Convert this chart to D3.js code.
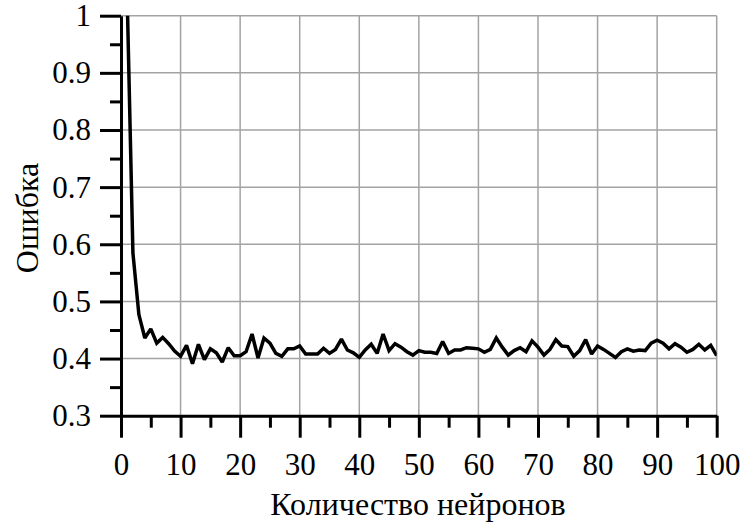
<!DOCTYPE html>
<html>
<head>
<meta charset="utf-8">
<script src="https://cdn.jsdelivr.net/npm/d3@7"></script>
<style>
  html, body { margin: 0; padding: 0; background: #fff; }
  svg { display: block; font-family: "Liberation Serif", serif; }
  #chart text { font-family: "Liberation Serif", serif !important; }
</style>
</head>
<body>
<svg id="chart" width="743" height="522"></svg>
<script>
// ---- data ----
const neurons = d3.range(1, 101);
const errorValues = [
  1.05, 0.585, 0.477, 0.436, 0.452, 0.427, 0.437, 0.426, 0.413, 0.404,
  0.423, 0.391, 0.425, 0.398, 0.417, 0.410, 0.394, 0.419, 0.405, 0.405,
  0.412, 0.443, 0.401, 0.436, 0.427, 0.409, 0.404, 0.417, 0.417, 0.422,
  0.408, 0.408, 0.408, 0.418, 0.409, 0.416, 0.434, 0.415, 0.410, 0.402,
  0.415, 0.425, 0.409, 0.443, 0.414, 0.426, 0.420, 0.412, 0.406, 0.414,
  0.411, 0.411, 0.409, 0.430, 0.409, 0.415, 0.415, 0.419, 0.418, 0.417,
  0.411, 0.416, 0.436, 0.420, 0.406, 0.414, 0.419, 0.412, 0.431, 0.420,
  0.406, 0.416, 0.433, 0.422, 0.421, 0.404, 0.414, 0.433, 0.408, 0.422,
  0.416, 0.409, 0.402, 0.412, 0.417, 0.413, 0.415, 0.414, 0.427, 0.432,
  0.427, 0.417, 0.426, 0.420, 0.411, 0.416, 0.425, 0.415, 0.423, 0.405
];
const xTicks = [0, 10, 20, 30, 40, 50, 60, 70, 80, 90, 100];
const xMinorTicks = [5, 15, 25, 35, 45, 55, 65, 75, 85, 95];
const yTicks = [0.3, 0.4, 0.5, 0.6, 0.7, 0.8, 0.9, 1.0];
const yMinorTicks = [0.35, 0.45, 0.55, 0.65, 0.75, 0.85, 0.95];
const xTitle = "Количество нейронов";
const yTitle = "Ошибка";

// ---- layout ----
const svg = d3.select("#chart");
const mLeft = 121, mRight = 716.7, mTop = 15.7, mBottom = 415.7;
const x = d3.scaleLinear().domain([0, 100]).range([mLeft, mRight]);
const y = d3.scaleLinear().domain([0.3, 1.0]).range([mBottom, mTop]);
const FONT = "Liberation Serif";
const tickFont = 31;
const titleFont = 32;

// gridlines
const grid = svg.append("g").attr("stroke", "#a3a3a3").attr("stroke-width", 1.5);
grid.selectAll("line.v").data(xTicks.filter(d => d > 0)).enter().append("line")
  .attr("x1", d => x(d)).attr("x2", d => x(d)).attr("y1", mTop).attr("y2", mBottom);
grid.selectAll("line.h").data(yTicks.filter(d => d > 0.3)).enter().append("line")
  .attr("x1", mLeft).attr("x2", mRight).attr("y1", d => y(d)).attr("y2", d => y(d));

// clip
svg.append("clipPath").attr("id", "plotclip").append("rect")
  .attr("x", mLeft).attr("y", mTop).attr("width", mRight - mLeft).attr("height", mBottom - mTop);

// line
const line = d3.line().x((d, i) => x(neurons[i])).y(d => y(d));
svg.append("path").datum(errorValues)
  .attr("clip-path", "url(#plotclip)")
  .attr("fill", "none").attr("stroke", "#000").attr("stroke-width", 3.5)
  .attr("stroke-linejoin", "miter").attr("stroke-miterlimit", 2)
  .attr("d", line);

// axes
function styleAxis(g) {
  g.attr("font-family", FONT).attr("font-size", tickFont);
  g.select(".domain").attr("stroke", "#000").attr("stroke-width", 3);
  g.selectAll(".tick line").attr("stroke", "#000").attr("stroke-width", 3);
  g.selectAll(".tick text").attr("fill", "#000")
    .attr("font-family", FONT).attr("font-size", tickFont);
}

const xMinor = svg.append("g").attr("transform", `translate(0,${mBottom})`)
  .call(d3.axisBottom(x).tickValues(xMinorTicks).tickSize(12).tickFormat(""));
xMinor.select(".domain").remove();
xMinor.selectAll(".tick line").attr("stroke", "#000").attr("stroke-width", 3);

const yMinor = svg.append("g").attr("transform", `translate(${mLeft},0)`)
  .call(d3.axisLeft(y).tickValues(yMinorTicks).tickSize(11).tickFormat(""));
yMinor.select(".domain").remove();
yMinor.selectAll(".tick line").attr("stroke", "#000").attr("stroke-width", 3);

const xAxis = svg.append("g").attr("transform", `translate(0,${mBottom})`)
  .call(d3.axisBottom(x).tickValues(xTicks).tickSize(22).tickSizeOuter(0)
    .tickFormat(d3.format("d")));
styleAxis(xAxis);
xAxis.selectAll(".tick text").attr("dy", null).attr("y", 59.5);

const yAxis = svg.append("g").attr("transform", `translate(${mLeft},0)`)
  .call(d3.axisLeft(y).tickValues(yTicks).tickSize(21).tickSizeOuter(0).tickPadding(9)
    .tickFormat(d => d === 1 ? "1" : d3.format(".1f")(d)));
styleAxis(yAxis);

// titles
svg.append("text")
  .attr("x", 418).attr("y", 515)
  .attr("text-anchor", "middle")
  .attr("font-family", FONT).attr("font-size", titleFont)
  .text(xTitle);

svg.append("text")
  .attr("transform", `translate(38,218) rotate(-90)`)
  .attr("text-anchor", "middle")
  .attr("font-family", FONT).attr("font-size", titleFont)
  .text(yTitle);
</script>
</body>
</html>
